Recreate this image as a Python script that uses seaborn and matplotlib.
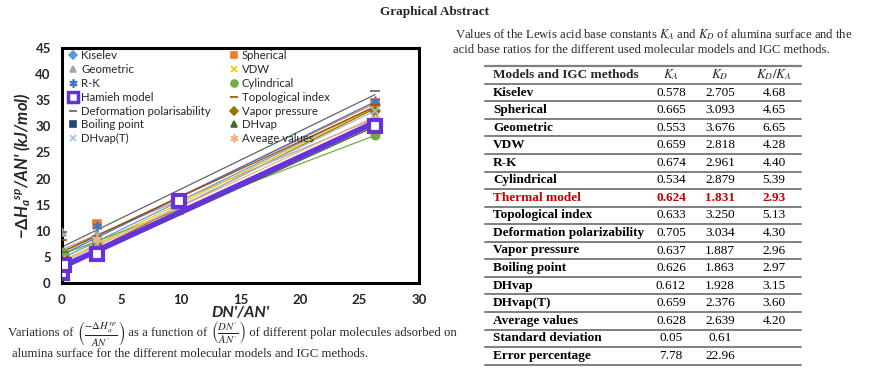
import numpy as np
import matplotlib
matplotlib.use("Agg")
import matplotlib.pyplot as plt
from matplotlib.lines import Line2D
import seaborn as sns

# chart data: DN'/AN' of the polar probes and -dHa_sp/AN' per model
dn_an = [0.0, 0.15, 2.95, 9.8, 26.3]
models = ["Kiselev", "Spherical", "Geometric", "VDW", "R-K", "Cylindrical",
          "Hamieh model", "Topological index", "Deformation polarisability",
          "Vapor pressure", "Boiling point", "DHvap", "DHvap(T)", "Aveage values"]
kiselev = [4.5, 5.0, 8.5, 15.0, 34.0]
spherical = [5.5, 5.0, 11.3, 15.5, 34.5]
geometric = [9.7, 4.0, 9.3, 14.5, 32.0]
vdw = [4.5, 3.5, 8.0, 15.2, 33.5]
rk = [5.0, 4.5, 11.0, 15.5, 34.8]
cylindrical = [6.0, 5.5, 7.5, 14.0, 28.3]
hamieh = [2.0, 3.5, 5.5, 15.7, 30.0]
topological = [8.3, 5.0, 8.0, 16.0, 34.0]
deformation = [9.8, 6.0, 9.0, 16.5, 36.7]
vapor = [3.0, 2.5, 7.0, 15.5, 33.0]
boiling = [2.5, 3.0, 6.5, 14.5, 30.0]
dhvap = [2.0, 2.5, 6.5, 14.0, 29.5]
dhvap_t = [3.5, 4.0, 7.5, 14.5, 33.0]
average = [2.5, 4.5, 8.5, 15.0, 31.5]
series = [kiselev, spherical, geometric, vdw, rk, cylindrical, hamieh,
          topological, deformation, vapor, boiling, dhvap, dhvap_t, average]

# table data
tab_models = ["Kiselev", "Spherical", "Geometric", "VDW", "R-K", "Cylindrical",
              "Thermal model", "Topological index", "Deformation polarizability",
              "Vapor pressure", "Boiling point", "DHvap", "DHvap(T)",
              "Average values", "Standard deviation", "Error percentage"]
tab_ka = ["0.578", "0.665", "0.553", "0.659", "0.674", "0.534", "0.624", "0.633",
          "0.705", "0.637", "0.626", "0.612", "0.659", "0.628", "0.05", "7.78"]
tab_kd = ["2.705", "3.093", "3.676", "2.818", "2.961", "2.879", "1.831", "3.250",
          "3.034", "1.887", "1.863", "1.928", "2.376", "2.639", "0.61", "22.96"]
tab_ratio = ["4.68", "4.65", "6.65", "4.28", "4.40", "5.39", "2.93", "5.13",
             "4.30", "2.96", "2.97", "3.15", "3.60", "4.20", "", ""]

purple = "#6633D9"
colors = ["#5B9BD5", "#ED7D31", "#A5A5A5", "#FFC000", "#4472C4", "#70AD47", purple,
          "#9E480E", "#636363", "#997300", "#264478", "#43682B", "#9DC3E6", "#F4B183"]
markers = ["D", "s", "^", "x", (6, 2, 0), "o", "s", "_", "_", "D", "s", "^", "x", (6, 2, 0)]
sizes = [5, 6, 6, 6, 7, 6, 9, 7, 7, 5, 5, 6, 6, 7]

sns.set_style("white")
plt.rcParams['font.family'] = ['Lato', 'DejaVu Sans']
plt.rcParams['mathtext.fontset'] = 'custom'
plt.rcParams['mathtext.it'] = 'Lato:italic:bold'
plt.rcParams['mathtext.rm'] = 'Lato:bold'
plt.rcParams['mathtext.bf'] = 'Lato:bold'

fig = plt.figure(figsize=(8.69, 3.79), dpi=100)
ax = fig.add_axes([0.0713, 0.2533, 0.411, 0.620])

handles = []
for name, ys, c, m, s in zip(models, series, colors, markers, sizes):
    lw = 4 if name == "Hamieh model" else (1.8 if name == "Boiling point" else 0.9)
    sns.regplot(x=np.array(dn_an), y=np.array(ys), ax=ax, scatter=False, ci=None,
                color=c, line_kws={"lw": lw, "zorder": 4 if name == "Hamieh model" else 2})
    if name == "Hamieh model":
        ax.plot(dn_an, ys, ls="none", marker=m, ms=s, mfc="white", mec=c, mew=3, zorder=5)
        leg_h = Line2D([], [], ls="none", marker=m, ms=7, mfc="white", mec=c, mew=2.5)
    else:
        ax.plot(dn_an, ys, ls="none", marker=m, ms=s, color=c, mew=1.2, zorder=3)
        leg_h = Line2D([], [], ls="none", marker=m, ms=s - 1, color=c, mew=1.2)
    handles.append((leg_h, name))

# legend filled row by row
order = [0, 2, 4, 6, 8, 10, 12, 1, 3, 5, 7, 9, 11, 13]
ax.legend([handles[i][0] for i in order], [handles[i][1] for i in order],
          ncol=2, loc="upper left", bbox_to_anchor=(0.0, 1.02), frameon=False,
          fontsize=8.2, handlelength=0.8, handletextpad=0.3, columnspacing=1.6,
          labelspacing=0.25, borderaxespad=0.2)

ax.set_xlim(0, 30)
ax.set_ylim(0, 45)
ax.set_xticks(range(0, 31, 5))
ax.set_yticks(range(0, 46, 5))
ax.tick_params(direction="in", length=4, width=1.5, labelsize=9.5, pad=8)
for lab in ax.get_xticklabels() + ax.get_yticklabels():
    lab.set_fontweight("bold")
for sp in ax.spines.values():
    sp.set_linewidth(2.2)
    sp.set_color("black")
ax.set_xlabel("DN'/AN'", fontsize=11.5, fontstyle="italic", fontweight="bold", labelpad=0)
ax.set_ylabel("$-\\Delta H_a{}^{sp}$/AN' (kJ/mol)", fontsize=12, fontstyle="italic",
              fontweight="bold", labelpad=2)

serif = ['Liberation Serif', 'DejaVu Serif']
fig.text(0.5, 1 - 12 / 379, "Graphical Abstract", ha="center", va="center",
         family=serif, fontweight="bold", fontsize=9.5)

# caption below the chart, chained pieces so the fractions can be a bit larger
pieces = [(r"$\left(\frac{-\Delta H_a^{sp}}{AN^{\prime}}\right)$", 11),
          (" as a function of ", 9.2),
          (r"$\left(\frac{DN^{\prime}}{AN^{\prime}}\right)$", 11),
          (" of different polar molecules adsorbed on", 9.2)]
prev = fig.text(8 / 869, 1 - 333 / 379, "Variations of ", ha="left", va="center",
                family=serif, fontsize=9.2)
for txt, fs in pieces:
    prev = ax.annotate(txt, xy=(1, 0.5), xycoords=prev, ha="left", va="center",
                       family=serif, fontsize=fs, math_fontfamily="stix")
fig.text(12 / 869, 1 - 354 / 379, "alumina surface for the different molecular models and IGC methods.",
         ha="left", va="center", family=serif, fontsize=9.2)

fig.text(455 / 869, 1 - 35 / 379,
         r"Values of the Lewis acid base constants $K_A$ and $K_D$ of alumina surface and the",
         ha="left", va="center", family=serif, fontsize=9.1, math_fontfamily="stix")
fig.text(453 / 869, 1 - 50 / 379,
         "acid base ratios for the different used molecular models and IGC methods.",
         ha="left", va="center", family=serif, fontsize=9.1)

# table
W, H = 869.0, 379.0
x_name, x_ka, x_kd, x_r = 493, 671, 720, 774
x0, x1 = 485, 801
row_h = 17.55
y_head = 75


def fy(py):
    return 1 - py / H


fig.add_artist(Line2D([x0 / W, x1 / W], [fy(y_head - 9), fy(y_head - 9)], color="#7f7f7f", lw=1.6))
fig.text(x_name / W, fy(y_head), "Models and IGC methods", ha="left", va="center",
         family=serif, fontweight="bold", fontsize=9.5)
for xx, t in [(x_ka, r"$K_A$"), (x_kd, r"$K_D$"), (x_r, r"$K_D/K_A$")]:
    fig.text(xx / W, fy(y_head), t, ha="center", va="center", family=serif,
             fontsize=9.5, math_fontfamily="stix")
fig.add_artist(Line2D([x0 / W, x1 / W], [fy(y_head + 8.8), fy(y_head + 8.8)], color="#7f7f7f", lw=1.4))

for i, (nm, ka, kd, r) in enumerate(zip(tab_models, tab_ka, tab_kd, tab_ratio)):
    yc = y_head + row_h * (i + 1)
    red = nm == "Thermal model"
    col = "#C00000" if red else "black"
    fig.text(x_name / W, fy(yc), nm, ha="left", va="center", family=serif,
             fontweight="bold", fontsize=9.5, color=col)
    for xx, v in [(x_ka, ka), (x_kd, kd), (x_r, r)]:
        fig.text(xx / W, fy(yc), v, ha="center", va="center", family=serif,
                 fontsize=9.5, color=col, fontweight="bold" if red else "normal")
    fig.add_artist(Line2D([x0 / W, x1 / W], [fy(yc + 8.8), fy(yc + 8.8)],
                          color="#7f7f7f", lw=1.4))

fig.savefig("out.png", dpi=100)
